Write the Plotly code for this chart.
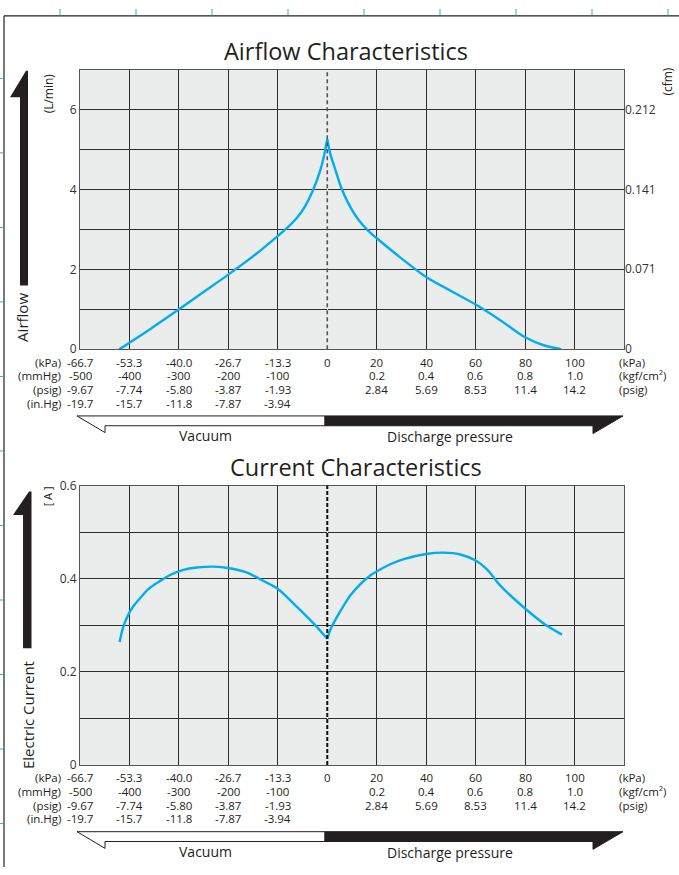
import plotly.graph_objects as go

W, H = 679, 875
FONT = "Open Sans"
TXT = "#231f20"
BLUE = "#00aeef"
BG = "#ebecec"
GRID = "#2e2e2e"

# ---------------- data ----------------
# x values in kPa (negative = vacuum, positive = discharge pressure)
airflow_vac_kpa = [-56.1, -47.7, -40.0, -33.3, -26.7, -19.3, -13.3, -10.7, -8.0, -6.0, -4.0, -2.0, -0.8, 0.0]
airflow_vac_lpm = [0.0, 0.51, 1.0, 1.44, 1.87, 2.38, 2.84, 3.05, 3.31, 3.58, 3.95, 4.45, 4.88, 5.26]
airflow_dis_kpa = [0.0, 1.2, 3.3, 5.4, 8.3, 12.3, 16.5, 20.0, 27.9, 40.0, 50.6, 60.0, 70.4, 80.0, 87.5, 94.6]
airflow_dis_lpm = [5.26, 4.90, 4.49, 4.09, 3.68, 3.27, 2.97, 2.78, 2.38, 1.81, 1.44, 1.12, 0.71, 0.30, 0.10, 0.0]

current_vac_kpa = [-56.0, -55.5, -54.7, -53.6, -52.3, -50.4, -48.2, -45.5, -42.4, -38.8, -35.2, -30.7,
                   -26.7, -21.6, -17.2, -13.3, -8.1, -3.7, 0.0]
current_vac_a = [0.264, 0.283, 0.304, 0.324, 0.341, 0.359, 0.378, 0.393, 0.408, 0.419, 0.424, 0.426,
                 0.423, 0.413, 0.395, 0.378, 0.339, 0.304, 0.271]
current_dis_kpa = [0.0, 1.2, 3.2, 5.9, 9.3, 13.3, 17.4, 20.1, 25.5, 30.9, 40.0, 47.0, 53.8, 60.0, 64.6,
                   70.0, 80.0, 87.5, 94.9]
current_dis_a = [0.271, 0.290, 0.311, 0.336, 0.364, 0.388, 0.407, 0.416, 0.431, 0.442, 0.453, 0.456,
                 0.452, 0.439, 0.420, 0.385, 0.336, 0.304, 0.280]

# tick labels
vac_kpa = ["-66.7", "-53.3", "-40.0", "-26.7", "-13.3"]
vac_mmhg = [-500, -400, -300, -200, -100]
vac_psig = ["-9.67", "-7.74", "-5.80", "-3.87", "-1.93"]
vac_inhg = ["-19.7", "-15.7", "-11.8", "-7.87", "-3.94"]
dis_kpa = [20, 40, 60, 80, 100]
dis_kgf = ["0.2", "0.4", "0.6", "0.8", "1.0"]
dis_psig = ["2.84", "5.69", "8.53", "11.4", "14.2"]
vac_units = ["(kPa)", "(mmHg)", "(psig)", "(in.Hg)"]
dis_units = ["(kPa)", "(kgf/cm\u00b2)", "(psig)"]

airflow_ticks = [0, 2, 4, 6]
cfm_ticks = [0, 0.071, 0.141, 0.212]
current_ticks = [0, 0.2, 0.4, 0.6]
LPM_TO_CFM = 0.035315

# vacuum side: one grid cell = 100 mmHg (13.33 kPa); discharge side: one cell = 20 kPa
VAC_CELL = 66.7 / 5
DIS_CELL = 20.0


def grid_x(kpa):
    return [k / VAC_CELL if k < 0 else k / DIS_CELL for k in kpa]


def fx(p):
    return p / W


def fy(p):
    return 1 - p / H


# plot boxes in pixels
L, R = 80, 624
TOP1, BOT1 = 62, 347
TOP2, BOT2 = 486, 771

fig = go.Figure()

line = dict(color=BLUE, width=2.4, shape="spline", smoothing=0.8)
fig.add_trace(go.Scatter(x=grid_x(airflow_vac_kpa), y=airflow_vac_lpm, mode="lines", line=line,
                         xaxis="x", yaxis="y", showlegend=False, hoverinfo="skip"))
fig.add_trace(go.Scatter(x=grid_x(airflow_dis_kpa), y=airflow_dis_lpm, mode="lines", line=line,
                         xaxis="x", yaxis="y", showlegend=False, hoverinfo="skip"))
fig.add_trace(go.Scatter(x=grid_x(current_vac_kpa), y=current_vac_a, mode="lines", line=line,
                         xaxis="x2", yaxis="y2", showlegend=False, hoverinfo="skip"))
fig.add_trace(go.Scatter(x=grid_x(current_dis_kpa), y=current_dis_a, mode="lines", line=line,
                         xaxis="x2", yaxis="y2", showlegend=False, hoverinfo="skip"))
# invisible trace for cfm axis
fig.add_trace(go.Scatter(x=[-5], y=[0], mode="markers", marker=dict(opacity=0),
                         xaxis="x", yaxis="y3", showlegend=False, hoverinfo="skip"))

tickfont = dict(family=FONT, size=12, color="#333333")

xcommon = dict(range=[-5, 6], dtick=1, tick0=0, showticklabels=False, showgrid=True,
               gridcolor=GRID, gridwidth=1, zeroline=True, zerolinecolor=BG, zerolinewidth=1,
               showline=True, mirror=True, linecolor="#555555", linewidth=1.2, ticks="")
ycommon = dict(showgrid=True, gridcolor=GRID, gridwidth=1, zeroline=False, showline=True,
               mirror=True, linecolor="#555555", linewidth=1.2, ticks="", tickfont=tickfont)

air_vals = list(range(8))
cur_vals = [i / 10 for i in range(7)]

fig.update_layout(
    width=W, height=H, margin=dict(l=0, r=0, t=0, b=0),
    paper_bgcolor="white", plot_bgcolor=BG,
    font=dict(family=FONT, color=TXT),
    xaxis=dict(domain=[fx(L), fx(R)], anchor="y", **xcommon),
    yaxis=dict(domain=[fy(BOT1), fy(TOP1)], anchor="x", range=[0, 7], tickvals=air_vals,
               ticktext=[str(v) if v in airflow_ticks else "" for v in air_vals], **ycommon),
    yaxis3=dict(overlaying="y", anchor="x", side="right", range=[0, 7 * LPM_TO_CFM],
                tickvals=cfm_ticks, ticktext=[str(v) if v else "0" for v in cfm_ticks],
                showgrid=False, zeroline=False, showline=False, ticks="", tickfont=tickfont),
    xaxis2=dict(domain=[fx(L), fx(R)], anchor="y2", **xcommon),
    yaxis2=dict(domain=[fy(BOT2), fy(TOP2)], anchor="x2", range=[0, 0.6], tickvals=cur_vals,
                ticktext=[(("%g" % v) if any(abs(v - t) < 1e-9 for t in current_ticks) else "") for v in cur_vals],
                **ycommon),
)

ann = []
shapes = []


def text(x, y, s, size=11.5, xanchor="center", angle=0, xref="paper", color=TXT):
    ann.append(dict(x=x if xref != "paper" else fx(x), y=fy(y), xref=xref, yref="paper", text=s,
                    showarrow=False, xanchor=xanchor, yanchor="middle", textangle=angle,
                    font=dict(family=FONT, size=size, color=color)))


for xr, top, bot, title in [("x", TOP1, BOT1, "Airflow Characteristics"),
                            ("x2", TOP2, BOT2, "Current Characteristics")]:
    # title
    text((L + R) / 2 - 6 + (0 if xr == "x" else 10), top - 19, title, size=23.5)
    # tick label rows
    rows = [bot + 13, bot + 27, bot + 41, bot + 55]
    vac_rows = [vac_kpa, [str(v) for v in vac_mmhg], vac_psig, vac_inhg]
    for r, labels in enumerate(vac_rows):
        for m, lab in zip(vac_mmhg, labels):
            text(m / 100, rows[r], lab, xref=xr)
        text(63, rows[r], vac_units[r], xanchor="right")
    text(0, rows[0], "0", xref=xr)
    dis_rows = [[str(v) for v in dis_kpa], dis_kgf, dis_psig]
    for r, labels in enumerate(dis_rows):
        for k, lab in zip(dis_kpa, labels):
            text(k / DIS_CELL, rows[r], lab, xref=xr)
        text(617, rows[r], dis_units[r], xanchor="left")
    # zero dashed line
    shapes.append(dict(type="line", xref=xr, yref="paper", x0=0, x1=0, y0=fy(bot), y1=fy(top),
                       line=dict(color="#555555" if xr == "x" else "#111111",
                                 width=1.6 if xr == "x" else 2,
                                 dash="4px,3px" if xr == "x" else "4px,2px")))
    # direction arrows
    a0, a1, a2 = bot + 68, bot + 78, bot + 85
    shapes.append(dict(type="path", xref="paper", yref="paper",
                       path=f"M {fx(325)},{fy(a0)} L {fx(77)},{fy(a0)} L {fx(105)},{fy(a2)} "
                            f"L {fx(105)},{fy(a1)} L {fx(325)},{fy(a1)} Z",
                       fillcolor="white", line=dict(color=TXT, width=1)))
    shapes.append(dict(type="path", xref="paper", yref="paper",
                       path=f"M {fx(325)},{fy(a0)} L {fx(623)},{fy(a0)} L {fx(593)},{fy(a2 + 1)} "
                            f"L {fx(593)},{fy(a1)} L {fx(325)},{fy(a1)} Z",
                       fillcolor=TXT, line=dict(color=TXT, width=1)))
    text(206, bot + 88, "Vacuum", size=14)
    text(450, bot + 89, "Discharge pressure", size=14)

# axis titles
text(48, 86, "(L/min)", size=12, angle=-90)
text(22, 315, "Airflow", size=15, angle=-90)
text(668, 74, "(cfm)", size=12, angle=-90)
text(47, 497, "[ A ]", size=11, angle=-90)
text(28, 720, "Electric Current", size=15, angle=-90)

# vertical arrows
shapes.append(dict(type="path", xref="paper", yref="paper",
                   path=f"M {fx(10)},{fy(90)} L {fx(20)},{fy(90)} L {fx(20)},{fy(282)} L {fx(28)},{fy(282)} "
                        f"L {fx(28)},{fy(63)} L {fx(26)},{fy(63)} Z",
                   fillcolor=TXT, line=dict(width=0)))
shapes.append(dict(type="path", xref="paper", yref="paper",
                   path=f"M {fx(13)},{fy(516)} L {fx(23)},{fy(516)} L {fx(23)},{fy(652)} L {fx(31.5)},{fy(652)} "
                        f"L {fx(31.5)},{fy(492)} L {fx(29)},{fy(492)} Z",
                   fillcolor=TXT, line=dict(width=0)))

# page frame and registration ticks
shapes.append(dict(type="line", xref="paper", yref="paper", x0=fx(4), x1=1, y0=fy(7), y1=fy(7),
                   line=dict(color=TXT, width=1.2)))
shapes.append(dict(type="line", xref="paper", yref="paper", x0=fx(4), x1=fx(4), y0=fy(7), y1=0,
                   line=dict(color=TXT, width=1.2)))
for i in range(9):
    xx = 60 + 76 * i
    shapes.append(dict(type="line", xref="paper", yref="paper", x0=fx(xx), x1=fx(xx), y0=1, y1=fy(6.5),
                       line=dict(color="#29abe2", width=1)))
for i in range(11):
    yy = 70.7 + 76 * i
    shapes.append(dict(type="line", xref="paper", yref="paper", x0=0, x1=fx(3.8), y0=fy(yy), y1=fy(yy),
                       line=dict(color="#29abe2", width=1)))

fig.update_layout(annotations=ann, shapes=shapes)
fig.write_html("out.html", config={"displayModeBar": False},
               post_script="document.body.style.margin='0';document.body.style.overflow='hidden';")
